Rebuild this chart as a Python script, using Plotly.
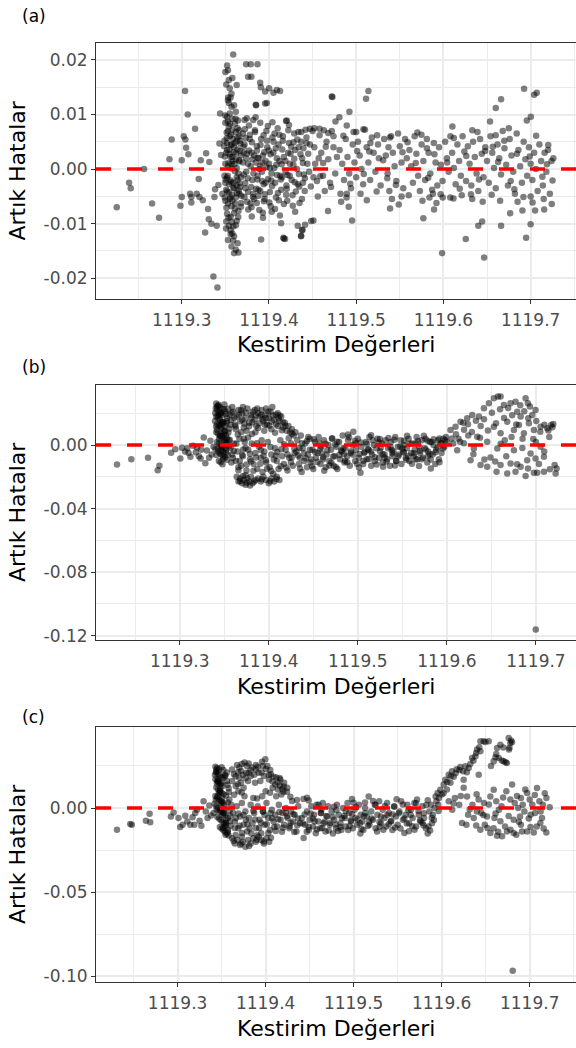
import plotly.graph_objects as go

# ---------------- data (Kestirim Değerleri, Artık Hatalar) -------------
A_LEFT = [
    (1119.2255, -0.0070), (1119.2396, -0.0025), (1119.2415, -0.0035), (1119.2568, 0.0000),
    (1119.2660, -0.0063), (1119.2740, -0.0089), (1119.2859, 0.0018), (1119.2885, 0.0054),
    (1119.2985, -0.0067), (1119.3000, -0.0051), (1119.3000, 0.0016), (1119.3023, 0.0060),
    (1119.3038, 0.0143), (1119.3042, 0.0054), (1119.3050, 0.0039), (1119.3069, 0.0100),
    (1119.3076, 0.0027), (1119.3096, -0.0045), (1119.3110, -0.0051), (1119.3110, -0.0061),
    (1119.3153, 0.0074), (1119.3172, -0.0045), (1119.3195, -0.0018), (1119.3203, -0.0051),
    (1119.3218, 0.0016), (1119.3241, -0.0057), (1119.3268, -0.0116), (1119.3279, 0.0029),
    (1119.3302, -0.0073), (1119.3310, -0.0092), (1119.3317, 0.0013), (1119.3340, -0.0100),
    (1119.3363, -0.0197), (1119.3375, -0.0051), (1119.3382, -0.0037), (1119.3401, -0.0104),
    (1119.3409, -0.0217), (1119.3420, -0.0029), (1119.3432, 0.0047), (1119.3440, 0.0102),
    (1119.3451, 0.0026), (1119.3466, -0.0045),
]
A_COLUMN = [
    (1119.350, 0.0178), (1119.352, 0.0190), (1119.353, 0.0181), (1119.354, 0.0163), (1119.351, 0.0155),
    (1119.355, 0.0148), (1119.356, 0.0131), (1119.353, 0.0126), (1119.357, 0.0114), (1119.352, 0.0096),
    (1119.359, 0.0210), (1119.363, 0.0154), (1119.360, 0.0117), (1119.350, 0.0085), (1119.354, 0.0078),
    (1119.358, 0.0072), (1119.362, 0.0068), (1119.366, 0.0060), (1119.349, 0.0052), (1119.352, 0.0048),
    (1119.356, 0.0045), (1119.360, 0.0040), (1119.364, 0.0036), (1119.351, 0.0030), (1119.355, 0.0027),
    (1119.358, 0.0022), (1119.362, 0.0018), (1119.366, 0.0014), (1119.350, 0.0010), (1119.353, 0.0005),
    (1119.357, 0.0001), (1119.361, -0.0004), (1119.365, -0.0008), (1119.349, -0.0012), (1119.352, -0.0016),
    (1119.356, -0.0021), (1119.359, -0.0025), (1119.363, -0.0030), (1119.367, -0.0033), (1119.351, -0.0038),
    (1119.354, -0.0043), (1119.358, -0.0047), (1119.362, -0.0052), (1119.350, -0.0058), (1119.353, -0.0063),
    (1119.357, -0.0068), (1119.361, -0.0072), (1119.365, -0.0077), (1119.352, -0.0082), (1119.356, -0.0088),
    (1119.351, -0.0096), (1119.354, -0.0104), (1119.356, -0.0112), (1119.358, -0.0118), (1119.360, -0.0123),
    (1119.357, -0.0142), (1119.360, -0.0154), (1119.362, -0.0148), (1119.364, -0.0136), (1119.365, -0.0153),
    (1119.353, -0.0130), (1119.355, 0.0102), (1119.358, 0.0092), (1119.361, 0.0083), (1119.364, 0.0075),
    (1119.367, 0.0052), (1119.368, 0.0025), (1119.368, -0.0015), (1119.366, -0.0045), (1119.368, -0.0062),
    (1119.363, -0.0095), (1119.359, -0.0105), (1119.355, 0.0060), (1119.359, 0.0055), (1119.363, 0.0002),
    (1119.355, -0.0055), (1119.360, -0.0035), (1119.352, 0.0035), (1119.357, 0.0010), (1119.364, -0.0020),
    (1119.350, -0.0025), (1119.353, 0.0070), (1119.357, 0.0138), (1119.358, 0.0167), (1119.354, 0.0121),
    (1119.362, 0.0105),
    (1119.3485, 0.0042), (1119.3512, -0.0071), (1119.3538, 0.0011), (1119.3567, 0.0063), (1119.3591, -0.0034),
    (1119.3623, 0.0029), (1119.3648, -0.0088), (1119.3671, 0.0047), (1119.3503, -0.0019), (1119.3529, 0.0087),
    (1119.3556, -0.0052), (1119.3584, 0.0015), (1119.3612, -0.0063), (1119.3639, 0.0058), (1119.3662, -0.0026),
    (1119.3494, 0.0023), (1119.3521, -0.0041), (1119.3547, 0.0036), (1119.3575, -0.0097), (1119.3603, 0.0009),
    (1119.3630, -0.0015), (1119.3657, 0.0071), (1119.3683, -0.0049), (1119.3517, 0.0057), (1119.3543, -0.0028),
    (1119.3571, 0.0044), (1119.3598, -0.0081), (1119.3626, 0.0051), (1119.3653, -0.0039), (1119.3508, -0.0109),
    (1119.3560, -0.0119), (1119.3617, 0.0092), (1119.3532, 0.0131), (1119.3589, -0.0131),
    (1119.3492, -0.0052), (1119.3515, 0.0067), (1119.3536, -0.0089), (1119.3559, 0.0022), (1119.3581, -0.0058),
    (1119.3606, 0.0048), (1119.3633, -0.0044), (1119.3658, 0.0016), (1119.3679, -0.0069), (1119.3498, 0.0098),
    (1119.3552, 0.0083), (1119.3596, 0.0031), (1119.3644, 0.0089), (1119.3527, -0.0012), (1119.3569, -0.0024),
    (1119.3621, -0.0103), (1119.3668, 0.0033),
]
A_BLOB = [
    (1119.3738, 0.0192), (1119.3791, 0.0192), (1119.3868, 0.0192), (1119.3761, 0.0169), (1119.3799, 0.0169),
    (1119.3899, 0.0158), (1119.3907, 0.0150), (1119.3956, 0.0142), (1119.4002, 0.0148), (1119.4052, 0.0140),
    (1119.4090, 0.0145), (1119.3956, 0.0120), (1119.3853, 0.0117), (1119.3746, 0.0093), (1119.3849, 0.0118),
    (1119.3975, 0.0121), (1119.4204, 0.0089), (1119.4720, 0.0133),
    (1119.3910, -0.0129), (1119.4166, -0.0126), (1119.4185, -0.0128), (1119.4139, -0.0099), (1119.4330, -0.0104),
    (1119.4369, -0.0122), (1119.4414, -0.0102), (1119.4384, -0.0111), (1119.4510, -0.0094), (1119.4032, -0.0078),
    (1119.3803, -0.0087),
    (1119.370, 0.0065), (1119.372, 0.0045), (1119.374, 0.0020), (1119.371, -0.0010), (1119.373, -0.0035),
    (1119.375, -0.0060), (1119.377, 0.0080), (1119.378, 0.0055), (1119.380, 0.0030), (1119.379, 0.0005),
    (1119.381, -0.0020), (1119.382, -0.0045), (1119.380, -0.0070), (1119.384, 0.0068), (1119.386, 0.0042),
    (1119.385, 0.0012), (1119.387, -0.0012), (1119.388, -0.0038), (1119.386, -0.0062), (1119.390, 0.0085),
    (1119.391, 0.0055), (1119.393, 0.0025), (1119.392, -0.0005), (1119.394, -0.0028), (1119.395, -0.0055),
    (1119.393, -0.0080), (1119.397, 0.0070), (1119.398, 0.0040), (1119.400, 0.0010), (1119.399, -0.0018),
    (1119.401, -0.0042), (1119.402, -0.0068), (1119.404, 0.0058), (1119.405, 0.0030), (1119.406, 0.0002),
    (1119.407, -0.0025), (1119.408, -0.0052), (1119.410, 0.0075), (1119.411, 0.0045), (1119.412, 0.0015),
    (1119.413, -0.0012), (1119.414, -0.0038), (1119.416, 0.0060), (1119.417, 0.0022), (1119.419, -0.0005),
    (1119.420, -0.0030), (1119.421, -0.0058), (1119.423, 0.0048), (1119.424, 0.0010), (1119.426, -0.0020),
    (1119.427, -0.0048), (1119.429, 0.0065), (1119.430, 0.0035), (1119.432, 0.0000), (1119.433, -0.0028),
    (1119.435, -0.0062), (1119.437, 0.0050), (1119.438, 0.0020), (1119.440, -0.0010), (1119.441, -0.0040),
    (1119.443, 0.0058), (1119.445, 0.0028), (1119.446, -0.0005), (1119.448, -0.0032), (1119.450, 0.0070),
    (1119.452, 0.0040), (1119.453, 0.0010), (1119.455, -0.0022), (1119.456, -0.0050), (1119.458, 0.0062),
    (1119.460, 0.0030), (1119.462, -0.0012), (1119.464, -0.0040), (1119.466, 0.0050), (1119.468, 0.0018),
    (1119.470, -0.0025), (1119.472, 0.0070), (1119.474, 0.0040), (1119.476, -0.0008),
    (1119.371, 0.0030), (1119.374, -0.0005), (1119.376, 0.0010), (1119.383, 0.0025), (1119.389, 0.0000),
    (1119.396, 0.0015), (1119.376, -0.0042), (1119.383, -0.0055), (1119.390, -0.0040), (1119.396, -0.0025),
    (1119.372, 0.0090), (1119.382, 0.0090), (1119.388, 0.0020), (1119.403, -0.0008), (1119.409, 0.0020),
    (1119.415, -0.0015), (1119.422, 0.0030), (1119.428, 0.0008), (1119.434, 0.0040), (1119.439, -0.0025),
    (1119.444, 0.0010), (1119.447, 0.0045), (1119.451, -0.0015), (1119.457, 0.0020),
    (1119.437, 0.0068), (1119.442, 0.0072), (1119.447, 0.0074), (1119.452, 0.0075), (1119.458, 0.0074),
    (1119.463, 0.0071), (1119.468, 0.0066), (1119.474, 0.0060),
    (1119.3702, 0.0012), (1119.3719, -0.0051), (1119.3733, 0.0057), (1119.3756, -0.0017), (1119.3771, 0.0034),
    (1119.3788, -0.0063), (1119.3805, 0.0049), (1119.3822, -0.0008), (1119.3839, 0.0071), (1119.3853, -0.0036),
    (1119.3871, 0.0021), (1119.3889, -0.0075), (1119.3903, 0.0044), (1119.3921, -0.0022), (1119.3938, 0.0062),
    (1119.3954, -0.0046), (1119.3969, 0.0004), (1119.3987, 0.0079), (1119.4004, -0.0061), (1119.4018, 0.0027),
    (1119.4036, -0.0031), (1119.4052, 0.0050), (1119.4069, -0.0073), (1119.4085, 0.0008), (1119.4103, -0.0044),
    (1119.4119, 0.0063), (1119.4136, -0.0019), (1119.4152, 0.0036), (1119.4171, -0.0064), (1119.4188, 0.0015),
    (1119.4204, -0.0036), (1119.4222, 0.0071), (1119.4238, -0.0012), (1119.4255, 0.0041), (1119.4273, -0.0067),
    (1119.4290, 0.0019), (1119.4307, -0.0041), (1119.4325, 0.0054), (1119.4343, -0.0009), (1119.4361, 0.0027),
    (1119.4378, -0.0055), (1119.4395, 0.0038), (1119.4412, -0.0017), (1119.4431, 0.0048), (1119.3745, 0.0028),
    (1119.3811, 0.0018), (1119.3879, -0.0049), (1119.3946, 0.0031), (1119.4011, 0.0002), (1119.4078, 0.0038),
    (1119.4145, 0.0009), (1119.4212, -0.0011), (1119.4281, 0.0049), (1119.4348, -0.0032), (1119.3762, -0.0074),
    (1119.3847, 0.0095), (1119.3931, -0.0089), (1119.4040, 0.0086), (1119.4125, -0.0085), (1119.4230, 0.0081),
    (1119.4300, -0.0078),
    (1119.3708, 0.0041), (1119.3727, -0.0026), (1119.3781, 0.0063), (1119.3816, -0.0051), (1119.3862, 0.0034),
    (1119.3897, 0.0006), (1119.3941, -0.0059), (1119.3978, 0.0052), (1119.4026, -0.0021), (1119.4064, 0.0065),
    (1119.4113, -0.0057), (1119.4158, 0.0052), (1119.4197, -0.0047), (1119.4247, 0.0028), (1119.4296, -0.0024),
    (1119.4337, 0.0068), (1119.4389, 0.0011), (1119.3724, 0.0073), (1119.3795, -0.0033), (1119.3865, -0.0019),
    (1119.3925, 0.0012), (1119.3998, 0.0034), (1119.4093, -0.0011),
]
A_RIGHT = [
    (1119.4127, 0.0143), (1119.4727, 0.0132), (1119.5113, 0.0129), (1119.5140, 0.0143), (1119.4922, 0.0105),
    (1119.4807, 0.0095), (1119.4762, 0.0087), (1119.4892, 0.0080), (1119.4196, 0.0088), (1119.5000, 0.0068),
    (1119.5083, 0.0073), (1119.6925, 0.0147), (1119.7040, 0.0136), (1119.7070, 0.0140), (1119.6661, 0.0128),
    (1119.6600, 0.0112), (1119.7002, 0.0096), (1119.6956, 0.0089), (1119.6535, 0.0087), (1119.6103, 0.0078),
    (1119.5702, 0.0067),
    (1119.5985, -0.0154), (1119.6467, -0.0162), (1119.6256, -0.0128), (1119.6948, -0.0126), (1119.5770, -0.0090),
    (1119.4953, -0.0094), (1119.6400, -0.0104), (1119.6661, -0.0104), (1119.7000, -0.0101), (1119.4169, -0.0127),
    (1119.4368, -0.0123), (1119.4379, -0.0112), (1119.4483, -0.0095), (1119.4677, -0.0077), (1119.4827, -0.0060),
    (1119.4914, -0.0069), (1119.5388, -0.0072), (1119.5488, -0.0065), (1119.5893, -0.0074), (1119.5992, -0.0052),
    (1119.6115, -0.0054), (1119.6444, -0.0096), (1119.6765, -0.0081), (1119.6906, -0.0076), (1119.7051, -0.0076),
    (1119.7155, -0.0074), (1119.7242, -0.0064),
    (1119.481, 0.0035), (1119.484, 0.0010), (1119.486, -0.0020), (1119.488, 0.0055), (1119.490, 0.0022),
    (1119.492, -0.0008), (1119.494, -0.0035), (1119.496, 0.0045), (1119.498, 0.0012), (1119.500, -0.0015),
    (1119.482, -0.0045), (1119.489, -0.0052), (1119.497, 0.0068),
    (1119.502, 0.0050), (1119.504, 0.0025), (1119.506, 0.0000), (1119.508, -0.0028), (1119.510, 0.0072),
    (1119.512, 0.0040), (1119.514, 0.0012), (1119.516, -0.0020), (1119.518, 0.0058), (1119.520, 0.0030),
    (1119.522, -0.0005), (1119.524, 0.0062), (1119.526, 0.0020), (1119.528, -0.0030), (1119.505, -0.0045),
    (1119.515, 0.0032), (1119.525, 0.0045),
    (1119.532, 0.0055), (1119.534, 0.0025), (1119.536, -0.0008), (1119.538, -0.0040), (1119.540, 0.0060),
    (1119.542, 0.0030), (1119.544, 0.0005), (1119.546, -0.0022), (1119.548, 0.0065), (1119.550, 0.0042),
    (1119.552, 0.0012), (1119.554, -0.0035), (1119.556, 0.0055), (1119.558, 0.0020), (1119.541, -0.0055),
    (1119.552, -0.0050), (1119.537, 0.0040),
    (1119.561, 0.0035), (1119.563, 0.0005), (1119.565, -0.0025), (1119.567, 0.0060), (1119.569, 0.0028),
    (1119.571, -0.0012), (1119.573, -0.0040), (1119.575, 0.0045), (1119.577, 0.0015), (1119.579, -0.0020),
    (1119.581, 0.0055), (1119.583, 0.0030), (1119.585, -0.0008), (1119.587, -0.0038), (1119.589, 0.0048),
    (1119.591, 0.0012), (1119.593, -0.0030), (1119.595, 0.0040), (1119.597, 0.0008), (1119.599, -0.0022),
    (1119.576, -0.0058), (1119.584, -0.0052), (1119.592, -0.0062), (1119.588, -0.0045),
    (1119.602, 0.0050), (1119.604, 0.0020), (1119.606, -0.0005), (1119.608, 0.0060), (1119.610, 0.0030),
    (1119.612, 0.0002), (1119.614, -0.0028), (1119.616, 0.0045), (1119.618, 0.0015), (1119.620, -0.0012),
    (1119.622, 0.0060), (1119.624, 0.0032), (1119.626, -0.0022), (1119.628, 0.0042), (1119.630, 0.0010),
    (1119.632, -0.0030), (1119.634, 0.0050), (1119.636, 0.0022), (1119.638, -0.0008), (1119.640, -0.0040),
    (1119.642, 0.0055), (1119.644, 0.0028), (1119.646, -0.0015), (1119.648, 0.0040), (1119.650, 0.0015),
    (1119.621, -0.0048), (1119.633, -0.0055), (1119.645, -0.0060), (1119.639, 0.0068),
    (1119.652, -0.0025), (1119.654, 0.0060), (1119.656, 0.0030), (1119.658, 0.0002), (1119.660, -0.0035),
    (1119.662, 0.0045), (1119.664, 0.0020), (1119.666, -0.0010), (1119.668, 0.0070), (1119.670, 0.0038),
    (1119.672, 0.0008), (1119.674, -0.0030), (1119.676, 0.0055), (1119.678, 0.0025), (1119.680, -0.0005),
    (1119.682, -0.0045), (1119.684, 0.0065), (1119.686, 0.0035), (1119.688, 0.0005), (1119.690, -0.0025),
    (1119.692, 0.0050), (1119.694, 0.0018), (1119.696, -0.0012), (1119.698, 0.0040), (1119.700, 0.0010),
    (1119.702, -0.0020), (1119.704, 0.0030), (1119.706, 0.0000), (1119.708, -0.0040), (1119.710, 0.0045),
    (1119.712, 0.0015), (1119.714, -0.0030), (1119.716, 0.0030), (1119.718, -0.0005), (1119.720, 0.0035),
    (1119.722, -0.0045), (1119.724, 0.0015), (1119.726, 0.0020), (1119.665, -0.0058), (1119.685, -0.0060),
    (1119.700, -0.0050), (1119.715, -0.0055), (1119.675, 0.0075), (1119.660, 0.0062),
    (1119.4587, -0.0013), (1119.4651, 0.0041), (1119.4712, -0.0033), (1119.4779, 0.0022), (1119.4853, 0.0061),
    (1119.4932, -0.0027), (1119.5011, 0.0033), (1119.5087, -0.0009), (1119.5163, 0.0048), (1119.5234, -0.0041),
    (1119.5309, 0.0016), (1119.5387, 0.0058), (1119.5455, -0.0029), (1119.5531, 0.0031), (1119.5602, -0.0048),
    (1119.5683, 0.0011), (1119.5748, 0.0063), (1119.5826, -0.0016), (1119.5897, 0.0027), (1119.5968, -0.0046),
    (1119.6043, 0.0012), (1119.6119, 0.0057), (1119.6187, -0.0036), (1119.6262, 0.0024), (1119.6331, 0.0071),
    (1119.6408, -0.0019), (1119.6479, 0.0033), (1119.6553, -0.0047), (1119.6627, 0.0013), (1119.6698, 0.0052),
    (1119.6771, -0.0022), (1119.6843, 0.0028), (1119.6917, -0.0051), (1119.6989, 0.0023), (1119.7063, 0.0061),
    (1119.7134, -0.0014), (1119.7202, 0.0044), (1119.7251, -0.0021), (1119.4621, 0.0011), (1119.4893, -0.0045),
    (1119.5122, -0.0057), (1119.5356, -0.0017), (1119.5589, 0.0049), (1119.5811, 0.0038), (1119.6078, -0.0052),
    (1119.6316, -0.0046), (1119.6566, 0.0041), (1119.6813, -0.0037), (1119.7022, -0.0061), (1119.7187, 0.0009),
]

B_LEFT = [
    (1119.2296, -0.0122), (1119.2457, -0.0090), (1119.2644, -0.0080), (1119.2753, -0.0158), (1119.2772, -0.0130),
    (1119.2903, -0.0048), (1119.2951, -0.0027), (1119.3007, -0.0084), (1119.3026, -0.0017), (1119.3060, -0.0040),
    (1119.3085, -0.0020), (1119.3120, -0.0074), (1119.3150, -0.0005), (1119.3180, -0.0045), (1119.3215, -0.0070),
    (1119.3240, -0.0030), (1119.3270, 0.0048), (1119.3288, -0.0115), (1119.3305, -0.0035), (1119.3345, 0.0027),
    (1119.3360, -0.0060), (1119.3380, -0.0010), (1119.3235, -0.0085), (1119.3195, -0.0015), (1119.3100, -0.0050),
    (1119.3330, -0.0080),
]
B_COLUMN = [
    (1119.341, 0.0262), (1119.343, 0.0248), (1119.345, 0.0238), (1119.342, 0.0221), (1119.344, 0.0210),
    (1119.346, 0.0197), (1119.348, 0.0188), (1119.341, 0.0179), (1119.343, 0.0168), (1119.345, 0.0161),
    (1119.347, 0.0149), (1119.349, 0.0142), (1119.342, 0.0131), (1119.344, 0.0122), (1119.346, 0.0109),
    (1119.348, 0.0101), (1119.350, 0.0088), (1119.341, 0.0081), (1119.343, 0.0072), (1119.345, 0.0058),
    (1119.347, 0.0049), (1119.349, 0.0041), (1119.351, 0.0032), (1119.342, 0.0019), (1119.344, 0.0011),
    (1119.346, 0.0002), (1119.348, -0.0012), (1119.350, -0.0021), (1119.352, -0.0028), (1119.343, -0.0041),
    (1119.345, -0.0052), (1119.347, -0.0061), (1119.349, -0.0072), (1119.351, -0.0079), (1119.353, -0.0092),
    (1119.344, -0.0101), (1119.346, -0.0108), (1119.348, -0.0121), (1119.350, 0.0225), (1119.352, 0.0195),
    (1119.353, 0.0152), (1119.351, 0.0118), (1119.352, 0.0065), (1119.353, 0.0015), (1119.340, -0.0025),
    (1119.3405, 0.0232), (1119.3428, 0.0185), (1119.3451, 0.0128), (1119.3474, 0.0069), (1119.3497, 0.0018),
    (1119.3519, -0.0047), (1119.3396, 0.0152), (1119.3419, 0.0097), (1119.3442, 0.0039), (1119.3465, -0.0011),
    (1119.3488, -0.0086), (1119.3511, 0.0211), (1119.3534, 0.0171), (1119.3557, 0.0102), (1119.3437, 0.0254),
    (1119.3461, 0.0202), (1119.3483, 0.0143), (1119.3506, 0.0083), (1119.3529, 0.0045), (1119.3552, -0.0008),
    (1119.3413, -0.0062), (1119.3467, -0.0035), (1119.3502, 0.0255), (1119.3545, 0.0229),
    (1119.3419, 0.0243), (1119.3446, 0.0189), (1119.3471, 0.0134), (1119.3493, 0.0062), (1119.3516, 0.0008),
    (1119.3539, -0.0061), (1119.3409, 0.0117), (1119.3456, 0.0058), (1119.3478, 0.0228), (1119.3524, 0.0137),
    (1119.3547, 0.0079), (1119.3562, 0.0034), (1119.3431, -0.0021), (1119.3487, -0.0046), (1119.3399, 0.0202),
]
B_BLOB = [
    (1119.356, 0.019), (1119.358, 0.016), (1119.360, 0.021), (1119.362, 0.013), (1119.364, 0.018),
    (1119.366, 0.022), (1119.368, 0.015), (1119.370, 0.020), (1119.372, 0.011), (1119.374, 0.017),
    (1119.376, 0.023), (1119.378, 0.014), (1119.380, 0.019), (1119.382, 0.021), (1119.384, 0.016),
    (1119.386, 0.012), (1119.388, 0.020), (1119.390, 0.018), (1119.392, 0.022), (1119.394, 0.015),
    (1119.396, 0.019), (1119.398, 0.013), (1119.400, 0.017), (1119.402, 0.021), (1119.404, 0.024),
    (1119.406, 0.016), (1119.408, 0.019), (1119.410, 0.012), (1119.412, 0.015), (1119.414, 0.018),
    (1119.416, 0.011), (1119.418, 0.014), (1119.420, 0.009), (1119.422, 0.012), (1119.424, 0.008),
    (1119.426, 0.010), (1119.428, 0.006), (1119.430, 0.008), (1119.363, 0.010), (1119.369, 0.008),
    (1119.375, 0.009), (1119.381, 0.007), (1119.359, 0.024), (1119.371, 0.024), (1119.387, 0.023),
    (1119.397, 0.023), (1119.410, 0.020), (1119.403, 0.010), (1119.395, 0.009), (1119.385, 0.008),
    (1119.355, 0.003), (1119.357, -0.002), (1119.359, -0.006), (1119.361, 0.001), (1119.363, -0.010),
    (1119.365, -0.004), (1119.367, 0.004), (1119.369, -0.013), (1119.371, -0.007), (1119.373, 0.002),
    (1119.375, -0.016), (1119.377, -0.003), (1119.379, -0.009), (1119.381, 0.001), (1119.383, -0.012),
    (1119.385, -0.005), (1119.387, -0.015), (1119.389, -0.001), (1119.391, -0.008), (1119.393, -0.017),
    (1119.395, -0.004), (1119.397, -0.011), (1119.399, 0.002), (1119.401, -0.014), (1119.403, -0.006),
    (1119.405, -0.018), (1119.407, -0.002), (1119.409, -0.010), (1119.411, -0.015), (1119.413, 0.003),
    (1119.415, -0.007), (1119.417, -0.012), (1119.419, -0.003), (1119.421, -0.016), (1119.423, -0.008),
    (1119.425, 0.001), (1119.427, -0.013), (1119.429, -0.005), (1119.358, -0.011), (1119.366, -0.014),
    (1119.374, -0.019), (1119.372, 0.004), (1119.392, 0.003),
    (1119.364, -0.020), (1119.366, -0.023), (1119.368, -0.021), (1119.370, -0.024), (1119.372, -0.022),
    (1119.374, -0.025), (1119.376, -0.021), (1119.378, -0.023), (1119.380, -0.020), (1119.382, -0.024),
    (1119.385, -0.022), (1119.388, -0.021), (1119.391, -0.023), (1119.394, -0.020), (1119.397, -0.022),
    (1119.400, -0.024), (1119.403, -0.021), (1119.406, -0.023), (1119.409, -0.020), (1119.412, -0.022),
    (1119.371, -0.0195), (1119.379, -0.0255),
    (1119.3573, 0.0128), (1119.3612, 0.0171), (1119.3652, 0.0066), (1119.3689, 0.0219), (1119.3727, 0.0136),
    (1119.3768, 0.0047), (1119.3806, 0.0174), (1119.3843, 0.0221), (1119.3881, 0.0107), (1119.3919, 0.0191),
    (1119.3958, 0.0128), (1119.3995, 0.0211), (1119.4033, 0.0149), (1119.4071, 0.0078), (1119.4109, 0.0168),
    (1119.4147, 0.0093), (1119.4186, 0.0121), (1119.4224, 0.0043), (1119.4262, 0.0071), (1119.3597, -0.0081),
    (1119.3636, 0.0008), (1119.3674, -0.0098), (1119.3713, -0.0028), (1119.3751, -0.0122), (1119.3789, -0.0055),
    (1119.3828, -0.0161), (1119.3866, 0.0011), (1119.3904, -0.0118), (1119.3942, -0.0068), (1119.3981, -0.0149),
    (1119.4019, -0.0012), (1119.4057, -0.0091), (1119.4096, -0.0043), (1119.4134, -0.0133), (1119.4173, 0.0005),
    (1119.4211, -0.0059), (1119.4249, -0.0109), (1119.4287, -0.0021), (1119.3678, -0.0226), (1119.3752, -0.0238),
    (1119.3837, -0.0229), (1119.3921, -0.0215), (1119.4016, -0.0228), (1119.4087, -0.0213),
    (1119.3583, 0.0204), (1119.3627, 0.0118), (1119.3664, 0.0191), (1119.3702, 0.0159), (1119.3741, 0.0205),
    (1119.3779, 0.0118), (1119.3818, 0.0142), (1119.3856, 0.0187), (1119.3893, 0.0138), (1119.3931, 0.0163),
    (1119.3969, 0.0171), (1119.4006, 0.0122), (1119.4046, 0.0186), (1119.4083, 0.0131), (1119.4121, 0.0186),
    (1119.4159, 0.0144), (1119.3608, -0.0036), (1119.3659, -0.0158), (1119.3701, -0.0062), (1119.3739, -0.0018),
    (1119.3802, -0.0103), (1119.3856, -0.0078), (1119.3911, -0.0031), (1119.3968, -0.0095), (1119.4028, -0.0163),
    (1119.4079, -0.0068), (1119.4141, -0.0027), (1119.4198, -0.0141), (1119.4257, -0.0078),
]
B_MIDDLE = [
    (1119.431, -0.004), (1119.432, 0.003), (1119.434, -0.012), (1119.435, -0.008), (1119.436, 0.006),
    (1119.437, -0.017), (1119.438, -0.002), (1119.440, -0.010), (1119.441, 0.001), (1119.443, -0.014),
    (1119.444, -0.006), (1119.446, 0.004), (1119.447, -0.011), (1119.449, -0.003), (1119.450, -0.015),
    (1119.452, 0.002), (1119.453, -0.008), (1119.455, -0.005), (1119.456, 0.005), (1119.458, -0.012),
    (1119.459, -0.001), (1119.461, -0.009), (1119.462, 0.003), (1119.464, -0.014), (1119.465, -0.006),
    (1119.467, 0.000), (1119.468, -0.010), (1119.470, -0.003), (1119.471, 0.004), (1119.473, -0.013),
    (1119.474, -0.007), (1119.476, -0.001), (1119.477, -0.015), (1119.479, 0.002), (1119.480, -0.009),
    (1119.482, -0.004), (1119.483, 0.006), (1119.485, -0.011), (1119.486, -0.002), (1119.488, -0.007),
    (1119.489, 0.003), (1119.491, -0.013), (1119.492, -0.005), (1119.494, 0.000), (1119.495, 0.0084),
    (1119.497, -0.010), (1119.498, -0.003), (1119.500, 0.004), (1119.501, -0.008), (1119.503, -0.0174),
    (1119.504, -0.001), (1119.506, -0.012), (1119.507, -0.005), (1119.509, 0.002), (1119.510, -0.009),
    (1119.512, -0.003), (1119.513, 0.005), (1119.515, -0.013), (1119.516, -0.006), (1119.518, 0.000),
    (1119.519, -0.010), (1119.521, -0.002), (1119.522, 0.004), (1119.524, -0.008), (1119.525, -0.004),
    (1119.527, 0.001), (1119.528, -0.011), (1119.530, -0.006), (1119.531, 0.003), (1119.533, -0.009),
    (1119.534, -0.002), (1119.536, -0.013), (1119.537, 0.002), (1119.539, -0.007), (1119.540, -0.004),
    (1119.542, 0.005), (1119.543, -0.010), (1119.545, -0.001), (1119.546, -0.006), (1119.548, 0.003),
    (1119.549, -0.012), (1119.551, -0.004), (1119.552, 0.000), (1119.554, -0.008), (1119.555, -0.002),
    (1119.557, 0.004), (1119.558, -0.010), (1119.560, -0.005), (1119.561, 0.001), (1119.563, -0.007),
    (1119.564, -0.003), (1119.566, 0.005), (1119.567, -0.009), (1119.569, -0.001), (1119.570, -0.005),
    (1119.572, 0.003), (1119.573, -0.008), (1119.575, -0.002), (1119.576, 0.004), (1119.578, -0.011),
    (1119.579, -0.004), (1119.581, 0.002), (1119.582, -0.0147), (1119.584, -0.006), (1119.585, 0.000),
    (1119.587, -0.012), (1119.588, -0.003), (1119.590, 0.003), (1119.591, -0.009), (1119.593, 0.001),
    (1119.594, -0.005), (1119.596, 0.004), (1119.597, -0.001), (1119.599, 0.005), (1119.600, 0.002),
    (1119.4329, -0.0066), (1119.4372, 0.0012), (1119.4418, -0.0083), (1119.4461, -0.0029), (1119.4507, 0.0037),
    (1119.4546, -0.0107), (1119.4593, -0.0051), (1119.4638, 0.0009), (1119.4681, -0.0128), (1119.4724, -0.0072),
    (1119.4768, 0.0021), (1119.4811, -0.0035), (1119.4857, -0.0098), (1119.4902, 0.0049), (1119.4947, -0.0061),
    (1119.4991, -0.0118), (1119.5034, 0.0016), (1119.5078, -0.0043), (1119.5123, -0.0087), (1119.5166, 0.0031),
    (1119.5212, -0.0122), (1119.5257, -0.0017), (1119.5301, -0.0079), (1119.5344, 0.0044), (1119.5388, -0.0052),
    (1119.5431, -0.0101), (1119.5477, -0.0009), (1119.5521, 0.0027), (1119.5564, -0.0069), (1119.5608, -0.0118),
    (1119.5653, 0.0011), (1119.5697, -0.0037), (1119.5741, 0.0058), (1119.5786, -0.0071), (1119.5829, 0.0019),
    (1119.5872, -0.0046), (1119.5916, 0.0042), (1119.5958, -0.0022), (1119.4351, -0.0147), (1119.4487, -0.0133),
    (1119.4623, -0.0162), (1119.4755, -0.0139), (1119.4889, 0.0067), (1119.5013, -0.0141), (1119.5149, 0.0062),
    (1119.5284, -0.0137), (1119.5418, -0.0129), (1119.5553, 0.0059), (1119.5687, -0.0132), (1119.5818, -0.0091),
    (1119.4443, 0.0051), (1119.4578, -0.0021), (1119.4712, 0.0043), (1119.4845, -0.0057), (1119.4979, 0.0011),
    (1119.5114, -0.0026), (1119.5248, 0.0038), (1119.5382, -0.0031), (1119.5516, -0.0047), (1119.5651, -0.0089),
    (1119.5784, 0.0027), (1119.5917, -0.0108),
    (1119.4345, -0.0018), (1119.4395, -0.0052), (1119.4429, 0.0025), (1119.4478, -0.0091), (1119.4521, -0.0044),
    (1119.4569, 0.0013), (1119.4612, -0.0076), (1119.4657, -0.0033), (1119.4703, -0.0112), (1119.4746, 0.0004),
    (1119.4792, -0.0063), (1119.4838, -0.0018), (1119.4881, -0.0109), (1119.4924, -0.0039), (1119.4968, 0.0027),
    (1119.5019, -0.0057), (1119.5063, -0.0098), (1119.5101, 0.0009), (1119.5147, -0.0041), (1119.5191, -0.0076),
    (1119.5236, 0.0018), (1119.5279, -0.0058), (1119.5322, -0.0103), (1119.5367, -0.0013), (1119.5411, 0.0034),
    (1119.5455, -0.0071), (1119.5499, -0.0024), (1119.5543, -0.0093), (1119.5587, 0.0009), (1119.5631, -0.0051),
    (1119.5675, 0.0026), (1119.5719, -0.0089), (1119.5763, -0.0028), (1119.5807, -0.0057), (1119.5851, 0.0036),
    (1119.5895, -0.0015), (1119.5939, 0.0011), (1119.5981, 0.0031),
]
B_RIGHT = [
    (1119.6416, 0.0231), (1119.6472, 0.0263), (1119.6528, 0.0294), (1119.6573, 0.0305), (1119.6603, 0.0305),
    (1119.6640, 0.0252), (1119.6715, 0.0263), (1119.6771, 0.0273), (1119.6884, 0.0294), (1119.6910, 0.0263),
    (1119.6933, 0.0242), (1119.6996, 0.0221), (1119.6828, 0.0179), (1119.6790, 0.0210),
    (1119.6041, 0.0095), (1119.6097, 0.0116), (1119.6153, 0.0147), (1119.6228, 0.0168), (1119.6285, 0.0189),
    (1119.6360, 0.0179), (1119.6380, 0.0120),
    (1119.6266, -0.0095), (1119.6378, -0.0126), (1119.6453, -0.0137), (1119.6490, -0.0078), (1119.6558, -0.0168),
    (1119.6603, -0.0126), (1119.6678, -0.0179), (1119.6715, -0.0116), (1119.6771, -0.0168), (1119.6828, -0.0137),
    (1119.6884, -0.0195), (1119.6902, -0.0095), (1119.6977, -0.0174), (1119.7015, -0.0174), (1119.7090, -0.0168),
    (1119.7221, -0.0179), (1119.7232, -0.0147), (1119.7210, -0.0126), (1119.6996, -0.0084), (1119.7090, -0.0074),
    (1119.6528, 0.0116), (1119.6603, 0.0074), (1119.6678, 0.0147), (1119.6753, 0.0095), (1119.6809, 0.0126),
    (1119.6865, 0.0074), (1119.6921, 0.0137), (1119.6977, 0.0095), (1119.7052, 0.0116), (1119.7127, 0.0105),
    (1119.7172, 0.0126), (1119.7195, 0.0132), (1119.6341, 0.0053), (1119.6453, 0.0021), (1119.6566, -0.0021),
    (1119.6753, -0.0032), (1119.6940, -0.0053), (1119.7052, -0.0011), (1119.6116, -0.0032), (1119.6191, 0.0011),
    (1119.6303, -0.0021), (1119.6240, 0.0060), (1119.6650, 0.0030), (1119.6850, 0.0040), (1119.7000, 0.0020),
    (1119.7150, 0.0050), (1119.6130, 0.0040), (1119.6070, 0.0010),
    (1119.6055, 0.0042), (1119.6102, 0.0068), (1119.6148, 0.0021), (1119.6193, 0.0097), (1119.6237, 0.0131),
    (1119.6281, 0.0082), (1119.6326, 0.0153), (1119.6372, 0.0046), (1119.6417, 0.0162), (1119.6461, 0.0091),
    (1119.6506, 0.0203), (1119.6552, 0.0138), (1119.6597, 0.0226), (1119.6642, 0.0171), (1119.6688, 0.0233),
    (1119.6733, 0.0188), (1119.6779, 0.0129), (1119.6824, 0.0251), (1119.6869, 0.0213), (1119.6914, 0.0168),
    (1119.6959, 0.0189), (1119.7004, 0.0152), (1119.7049, 0.0083), (1119.7095, 0.0128), (1119.7140, 0.0091),
    (1119.7185, 0.0112), (1119.6298, -0.0058), (1119.6421, -0.0091), (1119.6543, -0.0104), (1119.6667, -0.0071),
    (1119.6789, -0.0121), (1119.6911, -0.0148), (1119.7034, -0.0119), (1119.7156, -0.0152), (1119.6604, 0.0009),
    (1119.6726, 0.0051), (1119.6848, -0.0019), (1119.6970, 0.0038), (1119.7093, -0.0041), (1119.6185, 0.0141),
    (1119.6998, -0.1161),
]

C_LEFT = [
    (1119.2311, -0.0129), (1119.2462, -0.0095), (1119.2480, -0.0099), (1119.2640, -0.0075), (1119.2682, -0.0034),
    (1119.2689, -0.0085), (1119.2924, -0.0050), (1119.2955, -0.0026), (1119.3030, -0.0113), (1119.3057, -0.0099),
    (1119.3087, -0.0046), (1119.3144, -0.0099), (1119.3170, -0.0055), (1119.3200, -0.0030), (1119.3220, -0.0010),
    (1119.3250, -0.0075), (1119.3270, -0.0105), (1119.3295, 0.0040), (1119.3320, -0.0020), (1119.3340, -0.0060),
    (1119.3360, 0.0015), (1119.3380, -0.0045), (1119.3110, -0.0080), (1119.3190, -0.0100), (1119.3010, -0.0060),
]
C_COLUMN = [
    (1119.343, 0.0245), (1119.345, 0.0238), (1119.347, 0.0229), (1119.344, 0.0215), (1119.346, 0.0204),
    (1119.348, 0.0193), (1119.350, 0.0182), (1119.343, 0.0171), (1119.345, 0.0162), (1119.347, 0.0150),
    (1119.349, 0.0141), (1119.351, 0.0131), (1119.344, 0.0122), (1119.346, 0.0110), (1119.348, 0.0099),
    (1119.350, 0.0090), (1119.352, 0.0081), (1119.343, 0.0072), (1119.345, 0.0061), (1119.347, 0.0051),
    (1119.349, 0.0042), (1119.351, 0.0030), (1119.353, 0.0021), (1119.344, 0.0011), (1119.346, 0.0000),
    (1119.348, -0.0012), (1119.350, -0.0022), (1119.352, -0.0031), (1119.354, -0.0042), (1119.345, -0.0052),
    (1119.347, -0.0063), (1119.349, -0.0071), (1119.351, -0.0082), (1119.353, -0.0091), (1119.355, -0.0102),
    (1119.348, -0.0113), (1119.350, -0.0121), (1119.352, -0.0132), (1119.354, -0.0143), (1119.356, -0.0152),
    (1119.358, -0.0163), (1119.352, 0.0225), (1119.354, 0.0195), (1119.356, 0.0160), (1119.358, 0.0118),
    (1119.355, 0.0075), (1119.357, 0.0032), (1119.359, -0.0015), (1119.357, -0.0060), (1119.360, -0.0105),
    (1119.342, 0.0025), (1119.341, -0.0030),
    (1119.3425, 0.0198), (1119.3447, 0.0146), (1119.3469, 0.0087), (1119.3491, 0.0024), (1119.3513, -0.0041),
    (1119.3536, -0.0108), (1119.3558, 0.0211), (1119.3441, 0.0228), (1119.3463, 0.0171), (1119.3485, 0.0116),
    (1119.3507, 0.0058), (1119.3529, -0.0006), (1119.3551, -0.0073), (1119.3573, -0.0129), (1119.3434, 0.0049),
    (1119.3478, -0.0021), (1119.3522, 0.0179), (1119.3566, 0.0138), (1119.3588, 0.0051), (1119.3599, -0.0046),
    (1119.3545, -0.0158), (1119.3500, 0.0242),
    (1119.3437, 0.0211), (1119.3459, 0.0157), (1119.3481, 0.0096), (1119.3503, 0.0037), (1119.3526, -0.0029),
    (1119.3548, -0.0091), (1119.3571, -0.0142), (1119.3453, 0.0069), (1119.3497, 0.0149), (1119.3541, 0.0191),
    (1119.3583, 0.0094), (1119.3592, -0.0078), (1119.3444, -0.0009), (1119.3519, -0.0119),
]
C_RING = [
    (1119.3675, 0.0255), (1119.372, 0.022), (1119.376, 0.027), (1119.3807, 0.0265), (1119.385, 0.024),
    (1119.389, 0.0255), (1119.3959, 0.0275), (1119.3997, 0.0289), (1119.402, 0.025), (1119.4053, 0.0225),
    (1119.4091, 0.0186), (1119.4167, 0.0170), (1119.4205, 0.0127), (1119.4243, 0.0097), (1119.4281, 0.0067),
    (1119.4356, 0.0047), (1119.4470, 0.0061), (1119.364, 0.020), (1119.370, 0.018), (1119.378, 0.021),
    (1119.383, 0.019), (1119.392, 0.021), (1119.398, 0.019), (1119.404, 0.017), (1119.411, 0.014),
    (1119.414, 0.011), (1119.418, 0.008), (1119.362, 0.016), (1119.366, 0.013), (1119.369, 0.010),
    (1119.372, 0.015), (1119.375, 0.012), (1119.408, 0.012), (1119.412, 0.007), (1119.394, 0.016),
    (1119.388, 0.015), (1119.380, 0.016), (1119.3902, 0.0057), (1119.396, 0.007), (1119.400, 0.010),
    (1119.405, 0.009), (1119.386, 0.006), (1119.376, 0.007), (1119.4159, 0.0178), (1119.421, 0.015),
    (1119.361, 0.002), (1119.363, -0.003), (1119.365, -0.008), (1119.367, 0.001), (1119.369, -0.012),
    (1119.371, -0.005), (1119.373, 0.003), (1119.375, -0.010), (1119.377, -0.002), (1119.379, -0.014),
    (1119.381, -0.006), (1119.383, 0.002), (1119.385, -0.009), (1119.387, -0.003), (1119.389, -0.012),
    (1119.391, 0.001), (1119.393, -0.007), (1119.395, -0.015), (1119.397, -0.002), (1119.399, -0.010),
    (1119.401, 0.003), (1119.403, -0.006), (1119.405, -0.013), (1119.407, -0.001), (1119.409, -0.008),
    (1119.411, -0.004), (1119.413, -0.011), (1119.415, 0.002), (1119.417, -0.007), (1119.419, -0.003),
    (1119.421, -0.010), (1119.423, 0.000), (1119.425, -0.006), (1119.427, -0.012), (1119.429, -0.002),
    (1119.431, -0.008), (1119.433, -0.004), (1119.435, -0.014), (1119.437, 0.001), (1119.439, -0.009),
    (1119.362, -0.018), (1119.365, -0.021), (1119.368, -0.019), (1119.371, -0.022), (1119.374, -0.020),
    (1119.377, -0.023), (1119.380, -0.019), (1119.383, -0.021), (1119.386, -0.018), (1119.389, -0.020),
    (1119.392, -0.017), (1119.395, -0.019), (1119.398, -0.021), (1119.401, -0.018), (1119.404, -0.020),
    (1119.373, -0.017), (1119.366, -0.016),
    (1119.3618, 0.0229), (1119.3659, 0.0188), (1119.3702, 0.0241), (1119.3744, 0.0196), (1119.3786, 0.0249),
    (1119.3829, 0.0226), (1119.3871, 0.0198), (1119.3912, 0.0245), (1119.3954, 0.0211), (1119.4003, 0.0232),
    (1119.4037, 0.0196), (1119.4078, 0.0157), (1119.4121, 0.0181), (1119.4162, 0.0132), (1119.4202, 0.0096),
    (1119.4246, 0.0121), (1119.4301, 0.0041), (1119.3642, 0.0079), (1119.3685, 0.0141), (1119.3728, 0.0092),
    (1119.3771, 0.0176), (1119.3649, -0.0118), (1119.3691, -0.0032), (1119.3733, -0.0149), (1119.3776, -0.0069),
    (1119.3818, -0.0121), (1119.3861, -0.0018), (1119.3903, -0.0162), (1119.3946, -0.0087), (1119.3988, -0.0041),
    (1119.4031, -0.0149), (1119.4073, -0.0061), (1119.4115, -0.0136), (1119.4157, -0.0024), (1119.4199, -0.0117),
    (1119.4242, -0.0049), (1119.4284, -0.0089), (1119.4326, -0.0143), (1119.4369, -0.0062), (1119.3637, -0.0196),
    (1119.3723, -0.0211), (1119.3812, -0.0226), (1119.3897, -0.0188), (1119.3978, -0.0199), (1119.4061, -0.0176),
    (1119.3661, -0.0061), (1119.3704, -0.0106), (1119.3749, -0.0041), (1119.3793, -0.0097), (1119.3838, -0.0152),
    (1119.3881, -0.0068), (1119.3926, -0.0118), (1119.3969, -0.0021), (1119.4013, -0.0096), (1119.4056, -0.0029),
    (1119.4099, -0.0112), (1119.4143, -0.0066), (1119.4186, -0.0141), (1119.4229, -0.0028), (1119.4273, -0.0108),
    (1119.4316, -0.0037), (1119.4359, -0.0103), (1119.3687, 0.0213), (1119.3729, 0.0262), (1119.3808, 0.0208),
    (1119.3889, 0.0229), (1119.3967, 0.0249), (1119.4058, 0.0201), (1119.4138, 0.0151), (1119.4188, 0.0113),
]
C_MIDDLE = [
    (1119.441, -0.006), (1119.443, 0.0053), (1119.4432, -0.0178), (1119.445, -0.010), (1119.447, -0.002),
    (1119.449, -0.013), (1119.450, -0.007), (1119.452, 0.001), (1119.454, -0.011), (1119.455, -0.004),
    (1119.457, -0.015), (1119.458, 0.002), (1119.460, -0.008), (1119.462, -0.012), (1119.463, -0.003),
    (1119.465, 0.003), (1119.466, -0.009), (1119.468, -0.014), (1119.470, -0.005), (1119.471, 0.001),
    (1119.473, -0.010), (1119.4765, -0.0152), (1119.475, -0.002), (1119.478, -0.007), (1119.480, -0.012),
    (1119.481, 0.002), (1119.483, -0.004), (1119.485, -0.009), (1119.486, -0.013), (1119.488, 0.000),
    (1119.490, -0.006), (1119.491, -0.011), (1119.493, 0.003), (1119.495, -0.003), (1119.4981, 0.0053),
    (1119.497, -0.008), (1119.499, -0.012), (1119.501, -0.001), (1119.502, -0.006), (1119.504, -0.010),
    (1119.5076, -0.0152), (1119.506, 0.002), (1119.508, -0.004), (1119.510, -0.008), (1119.511, -0.013),
    (1119.513, 0.000), (1119.515, -0.005), (1119.5171, 0.0069), (1119.518, -0.010), (1119.520, -0.002),
    (1119.522, -0.007), (1119.524, 0.002), (1119.525, -0.012), (1119.527, -0.004), (1119.529, 0.004),
    (1119.531, -0.009), (1119.533, -0.001), (1119.535, -0.006), (1119.537, -0.011), (1119.538, 0.003),
    (1119.540, -0.003), (1119.542, -0.008), (1119.544, -0.013), (1119.546, 0.001), (1119.548, -0.005),
    (1119.550, -0.010), (1119.552, -0.002), (1119.554, 0.004), (1119.556, -0.007), (1119.5576, -0.0148),
    (1119.559, -0.004), (1119.561, 0.002), (1119.563, -0.009), (1119.565, -0.001), (1119.567, -0.006),
    (1119.569, 0.003), (1119.571, -0.011), (1119.572, 0.005), (1119.574, -0.004), (1119.576, -0.008),
    (1119.578, 0.001), (1119.580, -0.006), (1119.582, -0.012), (1119.5841, -0.0152), (1119.586, -0.002),
    (1119.588, 0.002), (1119.590, -0.004), (1119.592, 0.000), (1119.594, 0.004), (1119.596, 0.002),
    (1119.5985, 0.0109), (1119.597, 0.006), (1119.600, 0.008), (1119.589, -0.009), (1119.585, -0.011),
    (1119.4423, -0.0092), (1119.4467, -0.0141), (1119.4511, -0.0032), (1119.4557, -0.0078), (1119.4601, 0.0019),
    (1119.4644, -0.0118), (1119.4689, -0.0047), (1119.4733, -0.0089), (1119.4778, 0.0008), (1119.4822, -0.0136),
    (1119.4866, -0.0061), (1119.4911, -0.0019), (1119.4955, -0.0107), (1119.4999, 0.0031), (1119.5043, -0.0068),
    (1119.5088, -0.0124), (1119.5132, -0.0029), (1119.5176, -0.0082), (1119.5221, 0.0041), (1119.5266, -0.0139),
    (1119.5311, -0.0051), (1119.5355, 0.0012), (1119.5399, -0.0097), (1119.5444, -0.0038), (1119.5488, 0.0052),
    (1119.5532, -0.0121), (1119.5576, -0.0062), (1119.5621, -0.0013), (1119.5665, -0.0109), (1119.5709, 0.0028),
    (1119.5754, -0.0072), (1119.5798, -0.0031), (1119.5842, 0.0046), (1119.5887, -0.0058), (1119.5931, 0.0068),
    (1119.5965, -0.0017), (1119.4489, 0.0044), (1119.4634, -0.0009), (1119.4799, -0.0098), (1119.4968, -0.0072),
    (1119.5129, 0.0032), (1119.5296, -0.0111), (1119.5461, 0.0007), (1119.5627, -0.0138), (1119.5793, -0.0103),
    (1119.5954, 0.0089),
    (1119.4443, -0.0038), (1119.4489, -0.0113), (1119.4538, -0.0062), (1119.4582, -0.0128), (1119.4627, -0.0029),
    (1119.4671, -0.0081), (1119.4716, -0.0133), (1119.4761, -0.0054), (1119.4805, -0.0014), (1119.4849, -0.0112),
    (1119.4893, -0.0048), (1119.4938, -0.0131), (1119.4983, -0.0037), (1119.5027, 0.0006), (1119.5071, -0.0091),
    (1119.5116, -0.0049), (1119.5161, -0.0107), (1119.5204, -0.0062), (1119.5249, 0.0019), (1119.5293, -0.0083),
    (1119.5338, -0.0129), (1119.5382, -0.0042), (1119.5427, -0.0077), (1119.5471, -0.0116), (1119.5515, -0.0031),
    (1119.5559, 0.0021), (1119.5604, -0.0092), (1119.5648, -0.0041), (1119.5692, -0.0129), (1119.5737, -0.0017),
    (1119.5781, -0.0087), (1119.5826, 0.0018), (1119.5869, -0.0134), (1119.5912, -0.0071),
]
C_RIGHT = [
    (1119.6023, 0.0139), (1119.6042, 0.0168), (1119.6080, 0.0198), (1119.6117, 0.0218), (1119.6137, 0.0185),
    (1119.6212, 0.0244), (1119.6269, 0.0248), (1119.6307, 0.0238), (1119.6250, 0.0168), (1119.6345, 0.0297),
    (1119.6383, 0.0307), (1119.6402, 0.0347), (1119.6440, 0.0337), (1119.6421, 0.0198), (1119.6440, 0.0396),
    (1119.6477, 0.0396), (1119.6534, 0.0396), (1119.6591, 0.0277), (1119.6560, 0.0250), (1119.6629, 0.0356),
    (1119.6667, 0.0376), (1119.6648, 0.0297), (1119.6705, 0.0277), (1119.6742, 0.0267), (1119.6761, 0.0416),
    (1119.6780, 0.0386), (1119.6765, 0.0347), (1119.6799, 0.0390), (1119.6170, 0.0230), (1119.6100, 0.0150),
    (1119.6060, 0.0110), (1119.6620, 0.0320), (1119.6700, 0.0360),
    (1119.6080, 0.0040), (1119.6150, 0.0060), (1119.6200, 0.0020), (1119.6288, 0.0069), (1119.6350, 0.0020),
    (1119.6420, 0.0050), (1119.6480, 0.0030), (1119.6553, 0.0069), (1119.6591, 0.0109), (1119.6620, 0.0040),
    (1119.6680, 0.0010), (1119.6735, 0.0099), (1119.6780, 0.0050), (1119.6830, 0.0030), (1119.6870, 0.0000),
    (1119.6900, 0.0060), (1119.6970, 0.0089), (1119.7000, 0.0050), (1119.7030, 0.0020), (1119.7083, 0.0119),
    (1119.7110, 0.0040), (1119.7150, 0.0020), (1119.7190, 0.0060), (1119.7227, 0.0004), (1119.6940, -0.0020),
    (1119.6650, -0.0010), (1119.6400, -0.0020), (1119.6120, -0.0010), (1119.7060, -0.0030), (1119.6250, 0.0120),
    (1119.6800, 0.0140), (1119.6950, 0.0110),
    (1119.6231, -0.0089), (1119.6281, -0.0099), (1119.6364, -0.0059), (1119.6440, -0.0129), (1119.6490, -0.0100),
    (1119.6553, -0.0148), (1119.6590, -0.0120), (1119.6629, -0.0164), (1119.6686, -0.0168), (1119.6742, -0.0139),
    (1119.6818, -0.0148), (1119.6848, -0.0158), (1119.6913, -0.0139), (1119.6970, -0.0140), (1119.7046, -0.0145),
    (1119.7121, -0.0089), (1119.7189, -0.0145), (1119.7140, -0.0060), (1119.6818, -0.0069), (1119.6890, -0.0050),
    (1119.7010, -0.0040), (1119.6515, -0.0050), (1119.6450, -0.0030), (1119.6667, -0.0079), (1119.6300, -0.0040),
    (1119.6720, -0.0110), (1119.6600, -0.0060), (1119.6900, -0.0100), (1119.7080, -0.0110),
    (1119.6021, 0.0087), (1119.6063, 0.0154), (1119.6104, 0.0189), (1119.6158, 0.0207), (1119.6201, 0.0226),
    (1119.6243, 0.0219), (1119.6286, 0.0212), (1119.6325, 0.0261), (1119.6361, 0.0281), (1119.6392, 0.0326),
    (1119.6427, 0.0361), (1119.6497, 0.0392), (1119.6612, 0.0301), (1119.6683, 0.0282), (1119.6726, 0.0271),
    (1119.6770, 0.0358), (1119.6788, 0.0401), (1119.6135, 0.0027), (1119.6217, 0.0071), (1119.6319, -0.0007),
    (1119.6397, 0.0081), (1119.6474, -0.0041), (1119.6536, 0.0021), (1119.6612, -0.0032), (1119.6698, 0.0062),
    (1119.6761, -0.0047), (1119.6856, 0.0071), (1119.6921, 0.0019), (1119.6989, -0.0062), (1119.7058, 0.0078),
    (1119.7124, -0.0021), (1119.7171, 0.0088), (1119.6392, -0.0104), (1119.6521, -0.0118), (1119.6642, -0.0141),
    (1119.6781, -0.0129), (1119.6877, -0.0082), (1119.7009, -0.0113), (1119.7158, -0.0121),
    (1119.6807, -0.0966),
]

PANEL_LABELS = ["(a)", "(b)", "(c)"]
X_TITLE = "Kestirim Değerleri"
Y_TITLE = "Artık Hatalar"
X_TICKS = [1119.3, 1119.4, 1119.5, 1119.6, 1119.7]
X_TICK_TEXT = ["1119.3", "1119.4", "1119.5", "1119.6", "1119.7"]
X_MINOR = [1119.25, 1119.35, 1119.45, 1119.55, 1119.65, 1119.75]
A_YTICKS = [-0.02, -0.01, 0.0, 0.01, 0.02]
A_YTEXT = ["-0.02", "-0.01", "0.00", "0.01", "0.02"]
A_YMINOR = [-0.015, -0.005, 0.005, 0.015]
B_YTICKS = [-0.12, -0.08, -0.04, 0.0]
B_YTEXT = ["-0.12", "-0.08", "-0.04", "0.00"]
B_YMINOR = [-0.10, -0.06, -0.02, 0.02]
C_YTICKS = [-0.10, -0.05, 0.0]
C_YTEXT = ["-0.10", "-0.05", "0.00"]
C_YMINOR = [-0.075, -0.025, 0.025]

# ---------------- figure ----------------
W, H = 576, 1048
FONT = "DejaVu Sans, Verdana, sans-serif"
GRID = "#ebebeb"
DARK = "#333333"
TICKTXT = "#4d4d4d"


def px_x(px):
    return px / W


def px_y(py):
    return 1 - py / H


panels = [
    dict(pts=A_LEFT + A_COLUMN + A_BLOB + A_RIGHT, xr=[1119.2017, 1119.7520], yr=[-0.0238, 0.0231],
         ytv=A_YTICKS, ytt=A_YTEXT, ymn=A_YMINOR, top=43, bot=299, lab_y=16),
    dict(pts=B_LEFT + B_COLUMN + B_BLOB + B_MIDDLE + B_RIGHT, xr=[1119.2060, 1119.7450], yr=[-0.1227, 0.0378],
         ytv=B_YTICKS, ytt=B_YTEXT, ymn=B_YMINOR, top=385, bot=640, lab_y=367),
    dict(pts=C_LEFT + C_COLUMN + C_RING + C_MIDDLE + C_RIGHT, xr=[1119.2073, 1119.7526], yr=[-0.1033, 0.0481],
         ytv=C_YTICKS, ytt=C_YTEXT, ymn=C_YMINOR, top=727, bot=982, lab_y=717),
]

fig = go.Figure()
left_px = 96
annotations = []
shapes = []
for i, p in enumerate(panels):
    n = "" if i == 0 else str(i + 1)
    xs = [q[0] for q in p["pts"]]
    ys = [q[1] for q in p["pts"]]
    fig.add_trace(go.Scatter(
        x=xs, y=ys, mode="markers", xaxis="x" + n, yaxis="y" + n,
        marker=dict(color="black", opacity=0.5, size=6.5, line=dict(width=0)),
        showlegend=False, hoverinfo="skip"))
    dom_y = [px_y(p["bot"]), px_y(p["top"])]
    fig.update_layout(**{
        "xaxis" + n: dict(
            domain=[px_x(left_px), 1.0], range=p["xr"], anchor="y" + n, automargin=False,
            tickvals=X_TICKS, ticktext=X_TICK_TEXT,
            tickfont=dict(family=FONT, size=17, color=TICKTXT),
            ticks="outside", ticklen=4, tickwidth=1.1, tickcolor=DARK, ticklabelstandoff=2,
            showgrid=True, gridcolor=GRID, gridwidth=1.6, zeroline=False,
            minor=dict(tickvals=X_MINOR, showgrid=True, gridcolor=GRID, gridwidth=0.8, ticks=""),
            showline=True, linecolor=DARK, linewidth=1.1, mirror=True),
        "yaxis" + n: dict(
            domain=dom_y, range=p["yr"], anchor="x" + n, automargin=False,
            tickvals=p["ytv"], ticktext=p["ytt"],
            tickfont=dict(family=FONT, size=17, color=TICKTXT),
            ticks="outside", ticklen=4, tickwidth=1.1, tickcolor=DARK,
            showgrid=True, gridcolor=GRID, gridwidth=1.6, zeroline=False,
            minor=dict(tickvals=p["ymn"], showgrid=True, gridcolor=GRID, gridwidth=0.8, ticks=""),
            showline=True, linecolor=DARK, linewidth=1.1, mirror=False),
    })
    shapes.append(dict(type="line", xref="x" + n + " domain", yref="y" + n, x0=0, x1=1, y0=0, y1=0,
                       line=dict(color="#ff0000", width=3.5, dash="15px,16px"), layer="above"))
    mid = (p["top"] + p["bot"]) / 2
    annotations.append(dict(text=PANEL_LABELS[i], xref="paper", yref="paper", x=px_x(20), y=px_y(p["lab_y"]),
                            xanchor="left", yanchor="middle", showarrow=False,
                            font=dict(family=FONT, size=17, color="black")))
    annotations.append(dict(text=X_TITLE, xref="paper", yref="paper", x=px_x((left_px + W) / 2),
                            y=px_y(p["bot"] + 46), xanchor="center", yanchor="middle", showarrow=False,
                            font=dict(family=FONT, size=22, color="black")))
    annotations.append(dict(text=Y_TITLE, xref="paper", yref="paper", x=px_x(17.5), y=px_y(mid),
                            xanchor="center", yanchor="middle", textangle=-90, showarrow=False,
                            font=dict(family=FONT, size=22, color="black")))

fig.update_layout(width=W, height=H, margin=dict(l=0, r=0, t=0, b=0, autoexpand=False),
                  paper_bgcolor="white", plot_bgcolor="white",
                  shapes=shapes, annotations=annotations, showlegend=False,
                  font=dict(family=FONT))
fig.write_html("out.html", config={"displayModeBar": False},
               post_script="document.body.style.margin='0px';")
